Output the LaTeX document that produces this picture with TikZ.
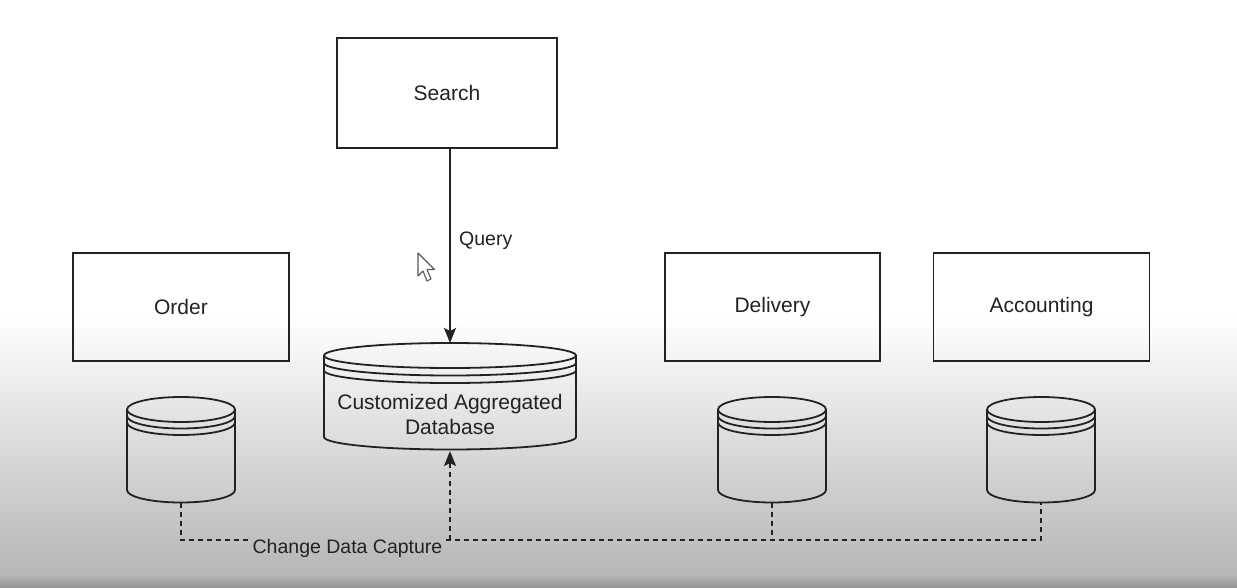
\documentclass[tikz,border=0pt]{standalone}
\usepackage{fontspec}
\setmainfont{Liberation Sans}
\usetikzlibrary{arrows.meta}
\definecolor{ink}{RGB}{34,34,34}
\definecolor{bgmid}{RGB}{182,182,182}
\definecolor{bgbot}{RGB}{150,150,150}
\newcommand{\dbdraw}[6]{%
  \draw[dbline] (#1,#2) ellipse[x radius=#4pt, y radius=#5pt];
  \draw[dbline] (#1-#4,#2) -- (#1-#4,#3) arc[start angle=180,end angle=360,x radius=#4pt,y radius=#5pt] -- (#1+#4,#2);
  \draw[dbline] (#1-#4,#2+#6) arc[start angle=180,end angle=360,x radius=#4pt,y radius=#5pt];
  \draw[dbline] (#1-#4,#2+2*#6) arc[start angle=180,end angle=360,x radius=#4pt,y radius=#5pt];
}
\tikzset{
  boxnode/.style={draw=ink, line width=1.8pt, text=ink, minimum height=108pt,
    font=\fontsize{21}{25}\selectfont},
  dbline/.style={draw=ink, line width=1.8pt},
  dbtext/.style={text=ink, align=center, font=\fontsize{21}{25}\selectfont},
  elabel/.style={text=ink, inner sep=3pt, font=\fontsize{19.5}{23}\selectfont},
  flow/.style={draw=ink, line width=1.6pt, -{Stealth[length=15pt,width=12pt,inset=3pt]}},
  cdc/.style={draw=ink, line width=1.6pt, dash pattern=on 5pt off 4pt},
}
\begin{document}
\begin{tikzpicture}[x=1pt,y=-1pt]
\useasboundingbox (0,0) rectangle (1237,587);
% background (screen gradient)
\fill[white] (0,0) rectangle (1237,318);
\shade[top color=white, bottom color=bgmid] (0,317) rectangle (1237,575);
\shade[top color=bgmid, bottom color=bgbot] (0,574.5) rectangle (1237,587);

% boxes
\node[boxnode, minimum width=220pt, minimum height=110pt] (search) at (447,93) {Search};
\node[boxnode, minimum width=216pt] (order) at (181,307) {Order};
\node[boxnode, minimum width=215pt] (delivery) at (772.5,307) {Delivery};
\node[boxnode, minimum width=216pt] (accounting) at (1041.5,307) {Accounting};

% databases
\dbdraw{450}{355.5}{437}{126}{12.5}{7.5}
\node[dbtext] (bigdb) at (450,414) {Customized Aggregated\\Database};
\coordinate (bigdb-top) at (450,343);
\coordinate (bigdb-b) at (450,451);

\dbdraw{181}{409.5}{490}{54}{12.5}{6.5}
\coordinate (orderdb-b) at (181,502.5);
\dbdraw{772}{409.5}{490}{54}{12.5}{6.5}
\coordinate (deldb-b) at (772,502.5);
\dbdraw{1041}{409.5}{490}{54}{12.5}{6.5}
\coordinate (accdb-b) at (1041,502.5);

% query
\draw[flow] (search.south -| bigdb-top) -- (bigdb-top);
\node[elabel, anchor=base west] (qlabel) at (456,245) {Query};

% change data capture
\coordinate (cdcjoin) at (450,540);
\node[elabel, anchor=base] (cdclabel) at (347.5,553) {Change Data Capture};
\draw[cdc] (orderdb-b) |- (cdclabel.west |- cdcjoin);
\draw[cdc] (cdclabel.east |- cdcjoin) -- (cdcjoin) -- (accdb-b |- cdcjoin) -- (accdb-b);
\draw[cdc] (deldb-b) -- (deldb-b |- cdcjoin);
\draw[cdc, -{Stealth[length=15pt,width=12pt,inset=3pt]}] (cdcjoin) -- (bigdb-b);

% mouse pointer
\draw[fill=white, draw=black!65, line width=1.1pt, line join=round]
  (418,253) -- (418,276) -- (423,271) -- (427,281) -- (431,279) -- (427,269.5) -- (434.5,269.5) -- cycle;
\end{tikzpicture}
\end{document}
